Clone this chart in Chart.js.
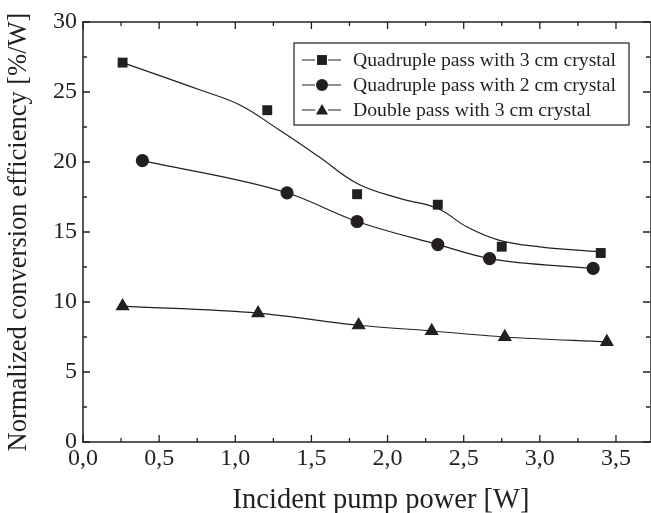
<!DOCTYPE html>
<html>
<head>
<meta charset="utf-8">
<script src="https://cdn.jsdelivr.net/npm/chart.js@4.4.1/dist/chart.umd.min.js"></script>
<style>
  html, body { margin: 0; padding: 0; background: #fff; }
  #wrap { width: 651px; height: 513px; }
</style>
</head>
<body>
<div id="wrap"><canvas id="chart"></canvas></div>
<script>
// values
const quad3Power = [0.26, 1.21, 1.80, 2.33, 2.75, 3.40];
const quad3Eff = [27.1, 23.7, 17.7, 16.95, 13.95, 13.5];
// fitted curve drawn through the quadruple 3 cm data
const quad3FitPower = [0.26, 0.77, 1.03, 1.29, 1.55, 1.80, 2.08, 2.33, 2.52, 2.73, 3.00, 3.39];
const quad3FitEff = [27.1, 25.14, 24.07, 22.28, 20.37, 18.47, 17.4, 16.68, 15.37, 14.42, 13.94, 13.58];

const quad2Power = [0.39, 1.34, 1.80, 2.33, 2.67, 3.35];
const quad2Eff = [20.1, 17.8, 15.75, 14.1, 13.1, 12.4];

const doublePower = [0.26, 1.15, 1.81, 2.29, 2.77, 3.44];
const doubleEff = [9.7, 9.2, 8.34, 7.93, 7.5, 7.15];

const seriesLabels = [
  "Quadruple pass with 3 cm crystal",
  "Quadruple pass with 2 cm crystal",
  "Double pass with 3 cm crystal"
];
const xTicks = [0, 0.5, 1.0, 1.5, 2.0, 2.5, 3.0, 3.5];
const yTicks = [0, 5, 10, 15, 20, 25, 30];

const INK = "#231f20";
const SERIF = "'Liberation Serif', 'Times New Roman', serif";

const pts = (xs, ys) => xs.map((x, i) => ({ x: x, y: ys[i] }));

// frame with inward ticks on all four sides
const framePlugin = {
  id: "frame",
  afterDatasetsDraw(chart) {
    const { ctx, chartArea: a, scales } = chart;
    const xs = scales.x, ys = scales.y;
    ctx.save();
    ctx.strokeStyle = INK;
    ctx.lineWidth = 1.5;
    ctx.strokeRect(a.left, a.top, a.right - a.left, a.bottom - a.top);
    ctx.lineWidth = 1.3;
    ctx.beginPath();
    for (let v = 0; v <= xs.max + 1e-9; v += 0.25) {
      const px = xs.getPixelForValue(v);
      const len = Math.abs(v / 0.5 - Math.round(v / 0.5)) < 1e-6 ? 7 : 4;
      ctx.moveTo(px, a.bottom); ctx.lineTo(px, a.bottom - len);
      ctx.moveTo(px, a.top); ctx.lineTo(px, a.top + len);
    }
    for (let v = 0; v <= ys.max + 1e-9; v += 2.5) {
      const py = ys.getPixelForValue(v);
      const len = v % 5 === 0 ? 7 : 4;
      ctx.moveTo(a.left, py); ctx.lineTo(a.left + len, py);
      ctx.moveTo(a.right - 1, py); ctx.lineTo(a.right - 1 - len, py);
    }
    ctx.stroke();

    // x axis title
    ctx.fillStyle = INK;
    ctx.font = "28.5px " + SERIF;
    ctx.textAlign = "center";
    ctx.textBaseline = "alphabetic";
    ctx.fillText("Incident pump power [W]", 381, 508);
    ctx.restore();
  }
};

// boxed legend: line - marker - line, then label
const legendPlugin = {
  id: "boxLegend",
  afterDraw(chart) {
    const { ctx } = chart;
    const styles = ["rect", "circle", "triangle"];
    const radii = [7, 6, 7];
    ctx.save();
    ctx.strokeStyle = INK;
    ctx.lineWidth = 1.2;
    ctx.fillStyle = "#fff";
    ctx.fillRect(294, 43, 335, 82);
    ctx.strokeRect(294, 43, 335, 82);
    ctx.font = "19.7px " + SERIF;
    ctx.textAlign = "left";
    ctx.textBaseline = "middle";
    seriesLabels.forEach((label, i) => {
      const y = 60 + i * 25;
      ctx.strokeStyle = INK;
      ctx.lineWidth = 1.2;
      ctx.beginPath();
      ctx.moveTo(302, y); ctx.lineTo(315, y);
      ctx.moveTo(328, y); ctx.lineTo(341, y);
      ctx.stroke();
      ctx.fillStyle = INK;
      Chart.helpers.drawPoint(ctx, { pointStyle: styles[i], radius: radii[i], borderWidth: 0 }, 322, y + (i === 2 ? 1 : 0));
      ctx.fillStyle = INK;
      ctx.fillText(label, 353, y + 1);
    });
    ctx.restore();
  }
};

const markerBase = { backgroundColor: INK, borderColor: INK, borderWidth: 0, pointHoverRadius: 0 };

new Chart(document.getElementById("chart"), {
  type: "scatter",
  data: {
    datasets: [
      {
        label: "fit",
        data: pts(quad3FitPower, quad3FitEff),
        showLine: true,
        tension: 0.4,
        borderColor: INK,
        borderWidth: 1.2,
        pointRadius: 0
      },
      Object.assign({
        label: seriesLabels[0],
        data: pts(quad3Power, quad3Eff),
        showLine: false,
        pointStyle: "rect",
        pointRadius: 7
      }, markerBase),
      Object.assign({
        label: seriesLabels[1],
        data: pts(quad2Power, quad2Eff),
        showLine: true,
        cubicInterpolationMode: "monotone",
        pointStyle: "circle",
        pointRadius: 6
      }, markerBase, { borderWidth: 1.2 }),
      Object.assign({
        label: seriesLabels[2],
        data: pts(doublePower, doubleEff),
        showLine: true,
        cubicInterpolationMode: "monotone",
        pointStyle: "triangle",
        pointRadius: 7
      }, markerBase, { borderWidth: 1.2 })
    ]
  },
  options: {
    responsive: true,
    maintainAspectRatio: false,
    animation: false,
    devicePixelRatio: 1,
    layout: { autoPadding: false, padding: { top: 22, right: 0, left: 0, bottom: 0 } },
    plugins: { legend: { display: false }, tooltip: { enabled: false } },
    scales: {
      x: {
        type: "linear",
        min: 0,
        max: 3.73,
        grid: { display: false, drawTicks: false },
        border: { display: false },
        ticks: {
          color: INK,
          font: { family: SERIF, size: 24 },
          padding: 2,
          maxRotation: 0,
          callback: (v) => v.toFixed(1).replace(".", ",")
        },
        afterBuildTicks: (s) => { s.ticks = xTicks.map((v) => ({ value: v })); },
        afterFit: (s) => { s.height = 71; }
      },
      y: {
        min: 0,
        max: 30,
        grid: { display: false, drawTicks: false },
        border: { display: false },
        ticks: {
          color: INK,
          font: { family: SERIF, size: 24 },
          padding: 6
        },
        afterBuildTicks: (s) => { s.ticks = yTicks.map((v) => ({ value: v })); },
        afterFit: (s) => { s.width = 83; },
        title: {
          display: true,
          text: "Normalized conversion efficiency [%/W]",
          color: INK,
          font: { family: SERIF, size: 26.5 },
          padding: { top: 3, bottom: 0 }
        }
      }
    }
  },
  plugins: [framePlugin, legendPlugin]
});
</script>
</body>
</html>
